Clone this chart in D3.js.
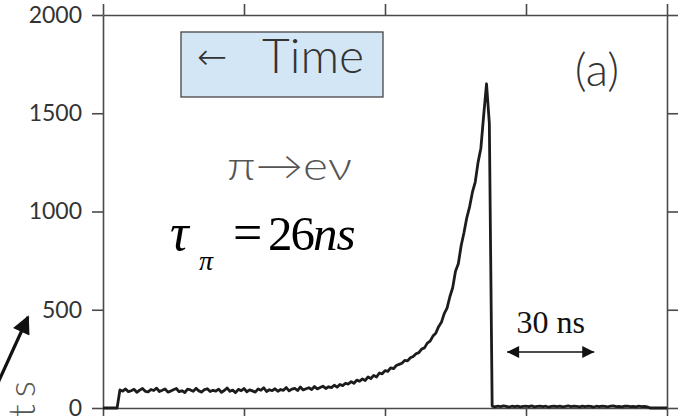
<!DOCTYPE html>
<html>
<head>
<meta charset="utf-8">
<script src="https://cdn.jsdelivr.net/npm/d3@7"></script>
<style>
  html, body { margin: 0; padding: 0; background: #fff; }
  svg { display: block; }
</style>
</head>
<body>
<svg id="chart" width="698" height="416"></svg>
<script>
// Time spectrum of pi -> e nu decays: counts per channel (1 channel = 1 ns)
const counts = [
  0, 0, 0, 0, 0, 0,
  92, 86, 97, 83, 88, 95, 80, 91, 99, 85, 82, 94, 89, 101, 84,
  90, 97, 81, 86, 93, 99, 83, 88, 79, 96, 92, 85, 100, 87, 81, 94, 98, 84, 90, 86,
  96, 80, 89, 102, 85, 91, 78, 95, 88, 99, 83, 92, 87, 81, 97, 90, 103, 84, 93, 88,
  98, 85, 94, 90, 104, 87, 96, 100, 89, 107, 92, 98, 103, 94, 109, 97, 104, 111, 99, 108,
  104, 116, 106, 120, 114, 126, 122, 134, 126, 142, 136, 148, 140, 158, 150, 166, 158, 178, 174, 190,
  186, 204, 200, 216, 222, 228, 242, 240, 256, 262,
  276, 282, 300, 306, 330, 340, 366, 380, 414, 436,
  480, 508, 566, 612, 696, 734, 826, 892,
  968, 1024, 1098, 1150, 1250, 1322, 1490, 1650,
  1450,
  10, 6, 9, 7, 11, 8, 5, 9, 7, 10, 6, 8, 9, 7, 11, 6, 8, 10, 7, 9,
  5, 8, 10, 7, 9, 6, 8, 11, 7, 9, 8, 6, 10, 7, 9, 8, 5, 9, 7, 10,
  8, 6, 9, 11, 7, 8, 6, 9, 10, 7, 8, 6, 9, 7, 8, 6,
  0, 0, 0, 0, 0, 0, 0
];
const channels = d3.range(counts.length);

const yTicks = [0, 500, 1000, 1500, 2000];
const yTickLabels = ["0", "500", "1000", "1500", "2000"];
const xTicks = [0, 50, 100, 150, 200];

// 30 ns scale bar, in channel units, and its height in counts
const scaleBar = [143.3, 174.2];
const scaleBarLevel = 285;

const svg = d3.select("#chart");
const margin = { left: 103, right: 31, top: 15, bottom: 8 };
const W = 698, H = 416;

const x = d3.scaleLinear().domain([0, 200]).range([margin.left, W - margin.right]);
const y = d3.scaleLinear().domain([0, 2000]).range([H - margin.bottom, margin.top]);

const axisColor = "#4a4a4a";
const tickFont = "Lato, 'DejaVu Sans', sans-serif";

function styleAxis(g) {
  g.select(".domain").attr("stroke", axisColor).attr("stroke-width", 1.6);
  g.selectAll(".tick line").attr("stroke", axisColor).attr("stroke-width", 1.6);
}

// left axis with labels
svg.append("g")
  .attr("transform", `translate(${margin.left},0)`)
  .call(d3.axisLeft(y).tickValues(yTicks).tickSize(11).tickSizeOuter(0).tickPadding(10)
    .tickFormat((d, i) => yTickLabels[i]))
  .call(styleAxis)
  .call(g => g.selectAll(".tick text")
    .attr("font-family", tickFont).attr("font-weight", 400)
    .attr("font-size", 23).attr("fill", "#333"));

// right axis
svg.append("g")
  .attr("transform", `translate(${W - margin.right},0)`)
  .call(d3.axisRight(y).tickValues(yTicks).tickSize(11).tickSizeOuter(0).tickFormat(""))
  .call(styleAxis);

// top axis
svg.append("g")
  .attr("transform", `translate(0,${margin.top})`)
  .call(d3.axisTop(x).tickValues(xTicks).tickSize(11).tickSizeOuter(0).tickFormat(""))
  .call(styleAxis);

// bottom axis
svg.append("g")
  .attr("transform", `translate(0,${H - margin.bottom})`)
  .call(d3.axisBottom(x).tickValues(xTicks).tickSize(10).tickSizeOuter(0).tickFormat(""))
  .call(styleAxis);

// spectrum
const line = d3.line()
  .x((d, i) => x(channels[i]))
  .y(d => y(d));

svg.append("path")
  .datum(counts)
  .attr("d", line)
  .attr("fill", "none")
  .attr("stroke", "#1c1c1c")
  .attr("stroke-width", 2.8)
  .attr("stroke-linejoin", "round");

// "← Time" box
svg.append("rect")
  .attr("x", 181).attr("y", 32).attr("width", 202).attr("height", 65)
  .attr("fill", "#d3e6f5").attr("stroke", "#444").attr("stroke-width", 1.3);
svg.append("text")
  .attr("x", 197).attr("y", 69)
  .attr("font-family", "'DejaVu Sans', sans-serif").attr("font-weight", 200)
  .attr("font-size", 36).attr("fill", "#333")
  .text("←");
svg.append("text")
  .attr("x", 262).attr("y", 73)
  .attr("font-family", "Lato, sans-serif").attr("font-weight", 300)
  .attr("font-size", 48).attr("fill", "#333")
  .text("Time");

// panel label
svg.append("text")
  .attr("x", 597).attr("y", 86).attr("text-anchor", "middle")
  .attr("font-family", "Lato, sans-serif").attr("font-weight", 300)
  .attr("font-size", 46).attr("fill", "#333")
  .text("(a)");

// decay mode
svg.append("text")
  .attr("x", 227).attr("y", 180)
  .attr("font-family", "Lato, 'DejaVu Sans', sans-serif").attr("font-weight", 300)
  .attr("font-size", 40).attr("fill", "#555")
  .attr("textLength", 125).attr("lengthAdjust", "spacingAndGlyphs")
  .text("π→eν");

// lifetime
const serif = "'Liberation Serif', 'Times New Roman', serif";
const tau = svg.append("text")
  .attr("font-family", serif).attr("font-size", 52).attr("fill", "#000");
tau.append("tspan").attr("x", 170).attr("y", 250).attr("font-style", "italic").text("τ");
tau.append("tspan").attr("x", 199).attr("y", 270).attr("font-style", "italic")
  .attr("font-size", 28).text("π");
tau.append("tspan").attr("x", 233).attr("y", 250).text("=");
tau.append("tspan").attr("x", 268).attr("y", 250).attr("font-size", 49)
  .attr("letter-spacing", -2).text("26");
tau.append("tspan").attr("font-size", 49).attr("font-style", "italic")
  .attr("letter-spacing", -1).text("ns");

// 30 ns scale bar
svg.append("text")
  .attr("x", (x(scaleBar[0]) + x(scaleBar[1])) / 2).attr("y", 333)
  .attr("text-anchor", "middle")
  .attr("font-family", serif).attr("font-size", 32).attr("fill", "#111")
  .text("30 ns");

const defs = svg.append("defs");
defs.append("marker")
  .attr("id", "head").attr("viewBox", "0 0 10 10")
  .attr("refX", 10).attr("refY", 5)
  .attr("markerWidth", 19).attr("markerHeight", 12)
  .attr("markerUnits", "userSpaceOnUse")
  .attr("orient", "auto-start-reverse")
  .append("path").attr("d", "M0,0 L10,5 L0,10 Z").attr("fill", "#111");

svg.append("line")
  .attr("x1", x(scaleBar[0])).attr("x2", x(scaleBar[1]))
  .attr("y1", y(scaleBarLevel)).attr("y2", y(scaleBarLevel))
  .attr("stroke", "#111").attr("stroke-width", 1.5)
  .attr("marker-start", "url(#head)").attr("marker-end", "url(#head)");

// vertical axis title, mostly beyond the lower edge
svg.append("text")
  .attr("transform", "translate(35,374) rotate(-90)")
  .attr("text-anchor", "end")
  .attr("font-family", "Lato, sans-serif").attr("font-weight", 300)
  .attr("font-size", 38).attr("letter-spacing", 7).attr("fill", "#555")
  .text("Counts");

// pointer arrow toward the axis
defs.append("marker")
  .attr("id", "bighead").attr("viewBox", "0 0 10 10")
  .attr("refX", 9).attr("refY", 5)
  .attr("markerWidth", 26).attr("markerHeight", 18)
  .attr("markerUnits", "userSpaceOnUse")
  .attr("orient", "auto")
  .append("path").attr("d", "M0,0 L10,5 L0,10 Z").attr("fill", "#111");
svg.append("line")
  .attr("x1", -8).attr("y1", 396).attr("x2", 28).attr("y2", 317)
  .attr("stroke", "#111").attr("stroke-width", 3.2)
  .attr("marker-end", "url(#bighead)");
</script>
</body>
</html>
